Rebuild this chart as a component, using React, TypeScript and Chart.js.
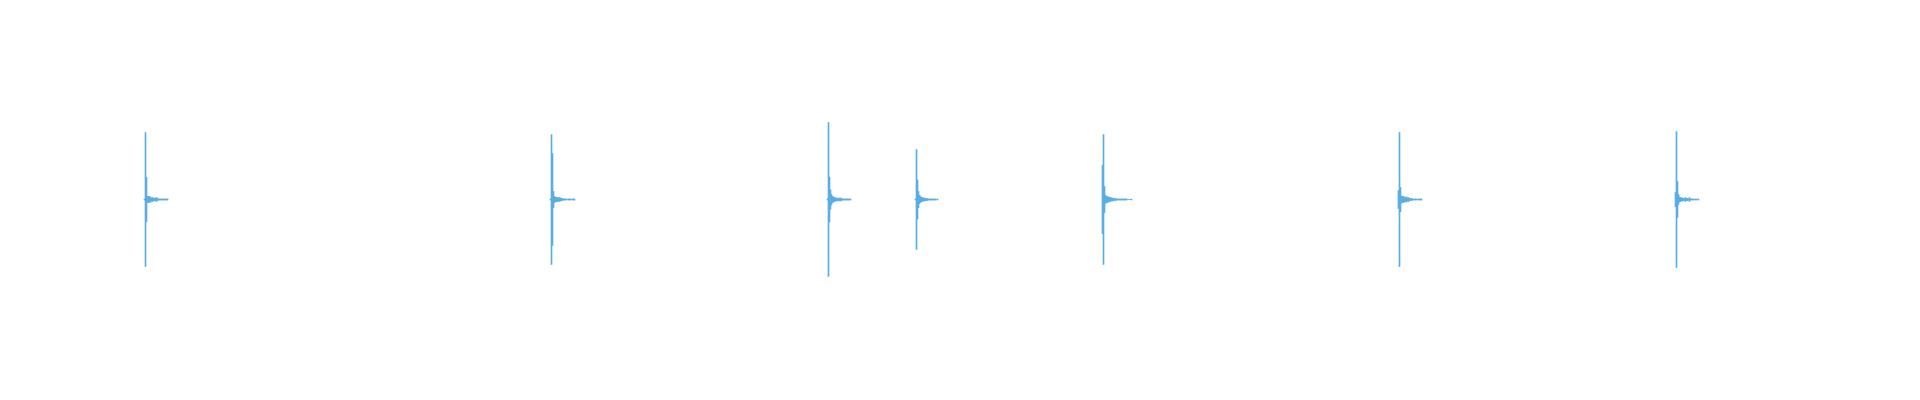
import { Chart, registerables } from 'chart.js';
import { useEffect, useRef } from 'react';

Chart.register(...registerables);

// seconds covered by one peak column
const sampleStep = 0.01;
const clipLength = 19.04;

// onset time (s) of each transient
const onsets = [1.36, 5.42, 8.19, 9.07, 10.94, 13.9, 16.67];

// normalized peak amplitude per column, starting at the onset
const peaks1 = [0.0026, 0.35, 0.115, 0.0157, 0.0157, 0.0157, 0.013, 0.0078, 0.0104, 0.0052, 0.0078, 0.0052, 0.0104, 0.0052, 0.0026, 0.0026, 0.0026, 0.0026, 0.0026, 0.0026, 0.0026, 0.0026, 0.0026, 0.0026];
const peaks2 = [0.0026, 0.339, 0.24, 0.042, 0.0157, 0.013, 0.0104, 0.0104, 0.0078, 0.0104, 0.0078, 0.0052, 0.0052, 0.0026, 0.0026, 0.0026, 0.0026, 0, 0.0026, 0.0026, 0.0026, 0, 0.0026, 0.0026, 0.0026];
const peaks3 = [0.0026, 0.402, 0.117, 0.05, 0.026, 0.0157, 0.013, 0.0104, 0.0078, 0.0078, 0.0052, 0.0078, 0.0052, 0.0078, 0.0052, 0.0026, 0.0026, 0.0026, 0.0026, 0.0026, 0.0026, 0.0026, 0.0026, 0.0026];
const peaks4 = [0.0026, 0.261, 0.102, 0.042, 0.021, 0.0157, 0.0104, 0.0104, 0.0078, 0.0078, 0.0052, 0.0052, 0.0052, 0.0026, 0.0026, 0.0026, 0.0026, 0.0026, 0.0026, 0.0026, 0.0026, 0, 0.0026];
const peaks5 = [0.178, 0.339, 0.068, 0.021, 0.0157, 0.0157, 0.013, 0.0104, 0.0104, 0.0078, 0.0078, 0.0052, 0.0052, 0.0052, 0.0026, 0.0026, 0.0026, 0.0026, 0.0026, 0.0026, 0.0026, 0.0026, 0.0026, 0.0026, 0.0026, 0, 0, 0, 0, 0.0026];
const peaks6 = [0.047, 0.35, 0.063, 0.018, 0.0157, 0.0157, 0.013, 0.0104, 0.013, 0.0078, 0.0104, 0.0052, 0.0052, 0.0052, 0.0026, 0.0026, 0.0026, 0.0026, 0.0026, 0, 0.0026, 0.0026, 0.0026, 0.0026];
const peaks7 = [0.037, 0.355, 0.094, 0.026, 0.013, 0.0104, 0.0078, 0.0078, 0.0052, 0.0052, 0.0104, 0.0052, 0.0052, 0.0026, 0.0104, 0.0026, 0.0026, 0.0026, 0.0026, 0, 0.0026, 0.0026, 0, 0.0026];

const events = [peaks1, peaks2, peaks3, peaks4, peaks5, peaks6, peaks7];

export default function App() {
    const canvasRef = useRef<HTMLCanvasElement | null>(null);

    useEffect(() => {
        if (!canvasRef.current) {
            return;
        }

        const points = events.flatMap((peaks, e) =>
            peaks.map((p, i) => ({ x: onsets[e] + (i + 0.5) * sampleStep, y: [-p, p] })),
        );

        const chart = new Chart(canvasRef.current, {
            type: 'bar',
            data: {
                datasets: [
                    {
                        label: 'waveform',
                        data: points as any,
                        backgroundColor: '#5aade2',
                        borderWidth: 0,
                        barThickness: 1,
                        grouped: false,
                    },
                ],
            },
            options: {
                animation: false,
                responsive: true,
                maintainAspectRatio: false,
                layout: { padding: 0 },
                plugins: {
                    legend: { display: false },
                    tooltip: { enabled: false },
                },
                scales: {
                    x: { type: 'linear', min: 0, max: clipLength, offset: false, display: false },
                    y: { min: -1, max: 1, display: false },
                },
            },
        });

        return () => chart.destroy();
    }, []);

    return (
        <div style={{ position: 'relative', width: 1904, height: 383 }}>
            <canvas ref={canvasRef} />
        </div>
    );
}
